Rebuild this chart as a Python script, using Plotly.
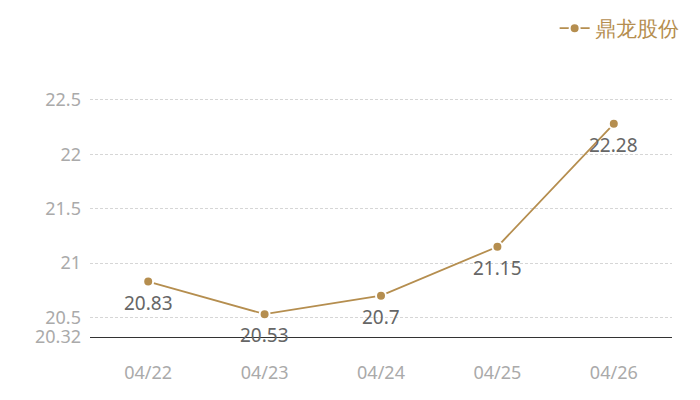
import plotly.graph_objects as go

dates = ["04/22", "04/23", "04/24", "04/25", "04/26"]
prices = [20.83, 20.53, 20.7, 21.15, 22.28]
series_name = "鼎龙股份"
y_ticks = [20.32, 20.5, 21, 21.5, 22, 22.5]
y_tick_text = ["20.32", "20.5", "21", "21.5", "22", "22.5"]

gold = "#B58E4F"
font_family = "Noto Sans, Open Sans, sans-serif"

fig = go.Figure()
fig.add_trace(go.Scatter(
    x=dates, y=prices, name=series_name,
    mode="lines+markers",
    line=dict(color=gold, width=1.8),
    marker=dict(color=gold, size=10, line=dict(color="white", width=2)),
    cliponaxis=False,
))

for d, v in zip(dates, prices):
    fig.add_annotation(
        x=d, y=v, text=str(v), showarrow=False,
        yshift=-21, font=dict(color="#666666", size=19, family=font_family),
    )

# the page body adds 8px offset, so the figure is 8px smaller and margins shifted
fig.update_layout(
    width=692, height=392,
    margin=dict(l=82, r=28, t=81, b=63),
    paper_bgcolor="white", plot_bgcolor="white",
    font=dict(family=font_family),
    showlegend=True,
    legend=dict(
        orientation="h", x=1.02, xanchor="right", xref="paper",
        y=1.0, yanchor="top", yref="container",
        font=dict(color=gold, size=21, family=font_family),
        itemwidth=30,
        bgcolor="rgba(0,0,0,0)",
    ),
    xaxis=dict(
        type="category", range=[-0.5, 4.5],
        showgrid=False, showline=True, linecolor="#333333", linewidth=1,
        ticks="", tickfont=dict(color="#AAAAAA", size=18),
        zeroline=False, ticklabelstandoff=19,
    ),
    yaxis=dict(
        range=[20.32, 22.6],
        tickvals=y_ticks, ticktext=y_tick_text,
        showgrid=True, gridcolor="#D6D6D6", griddash="3px,2px", gridwidth=1,
        showline=False, zeroline=False, ticks="",
        tickfont=dict(color="#AAAAAA", size=18),
        ticklabelstandoff=8,
    ),
)

fig.write_html("out.html")
